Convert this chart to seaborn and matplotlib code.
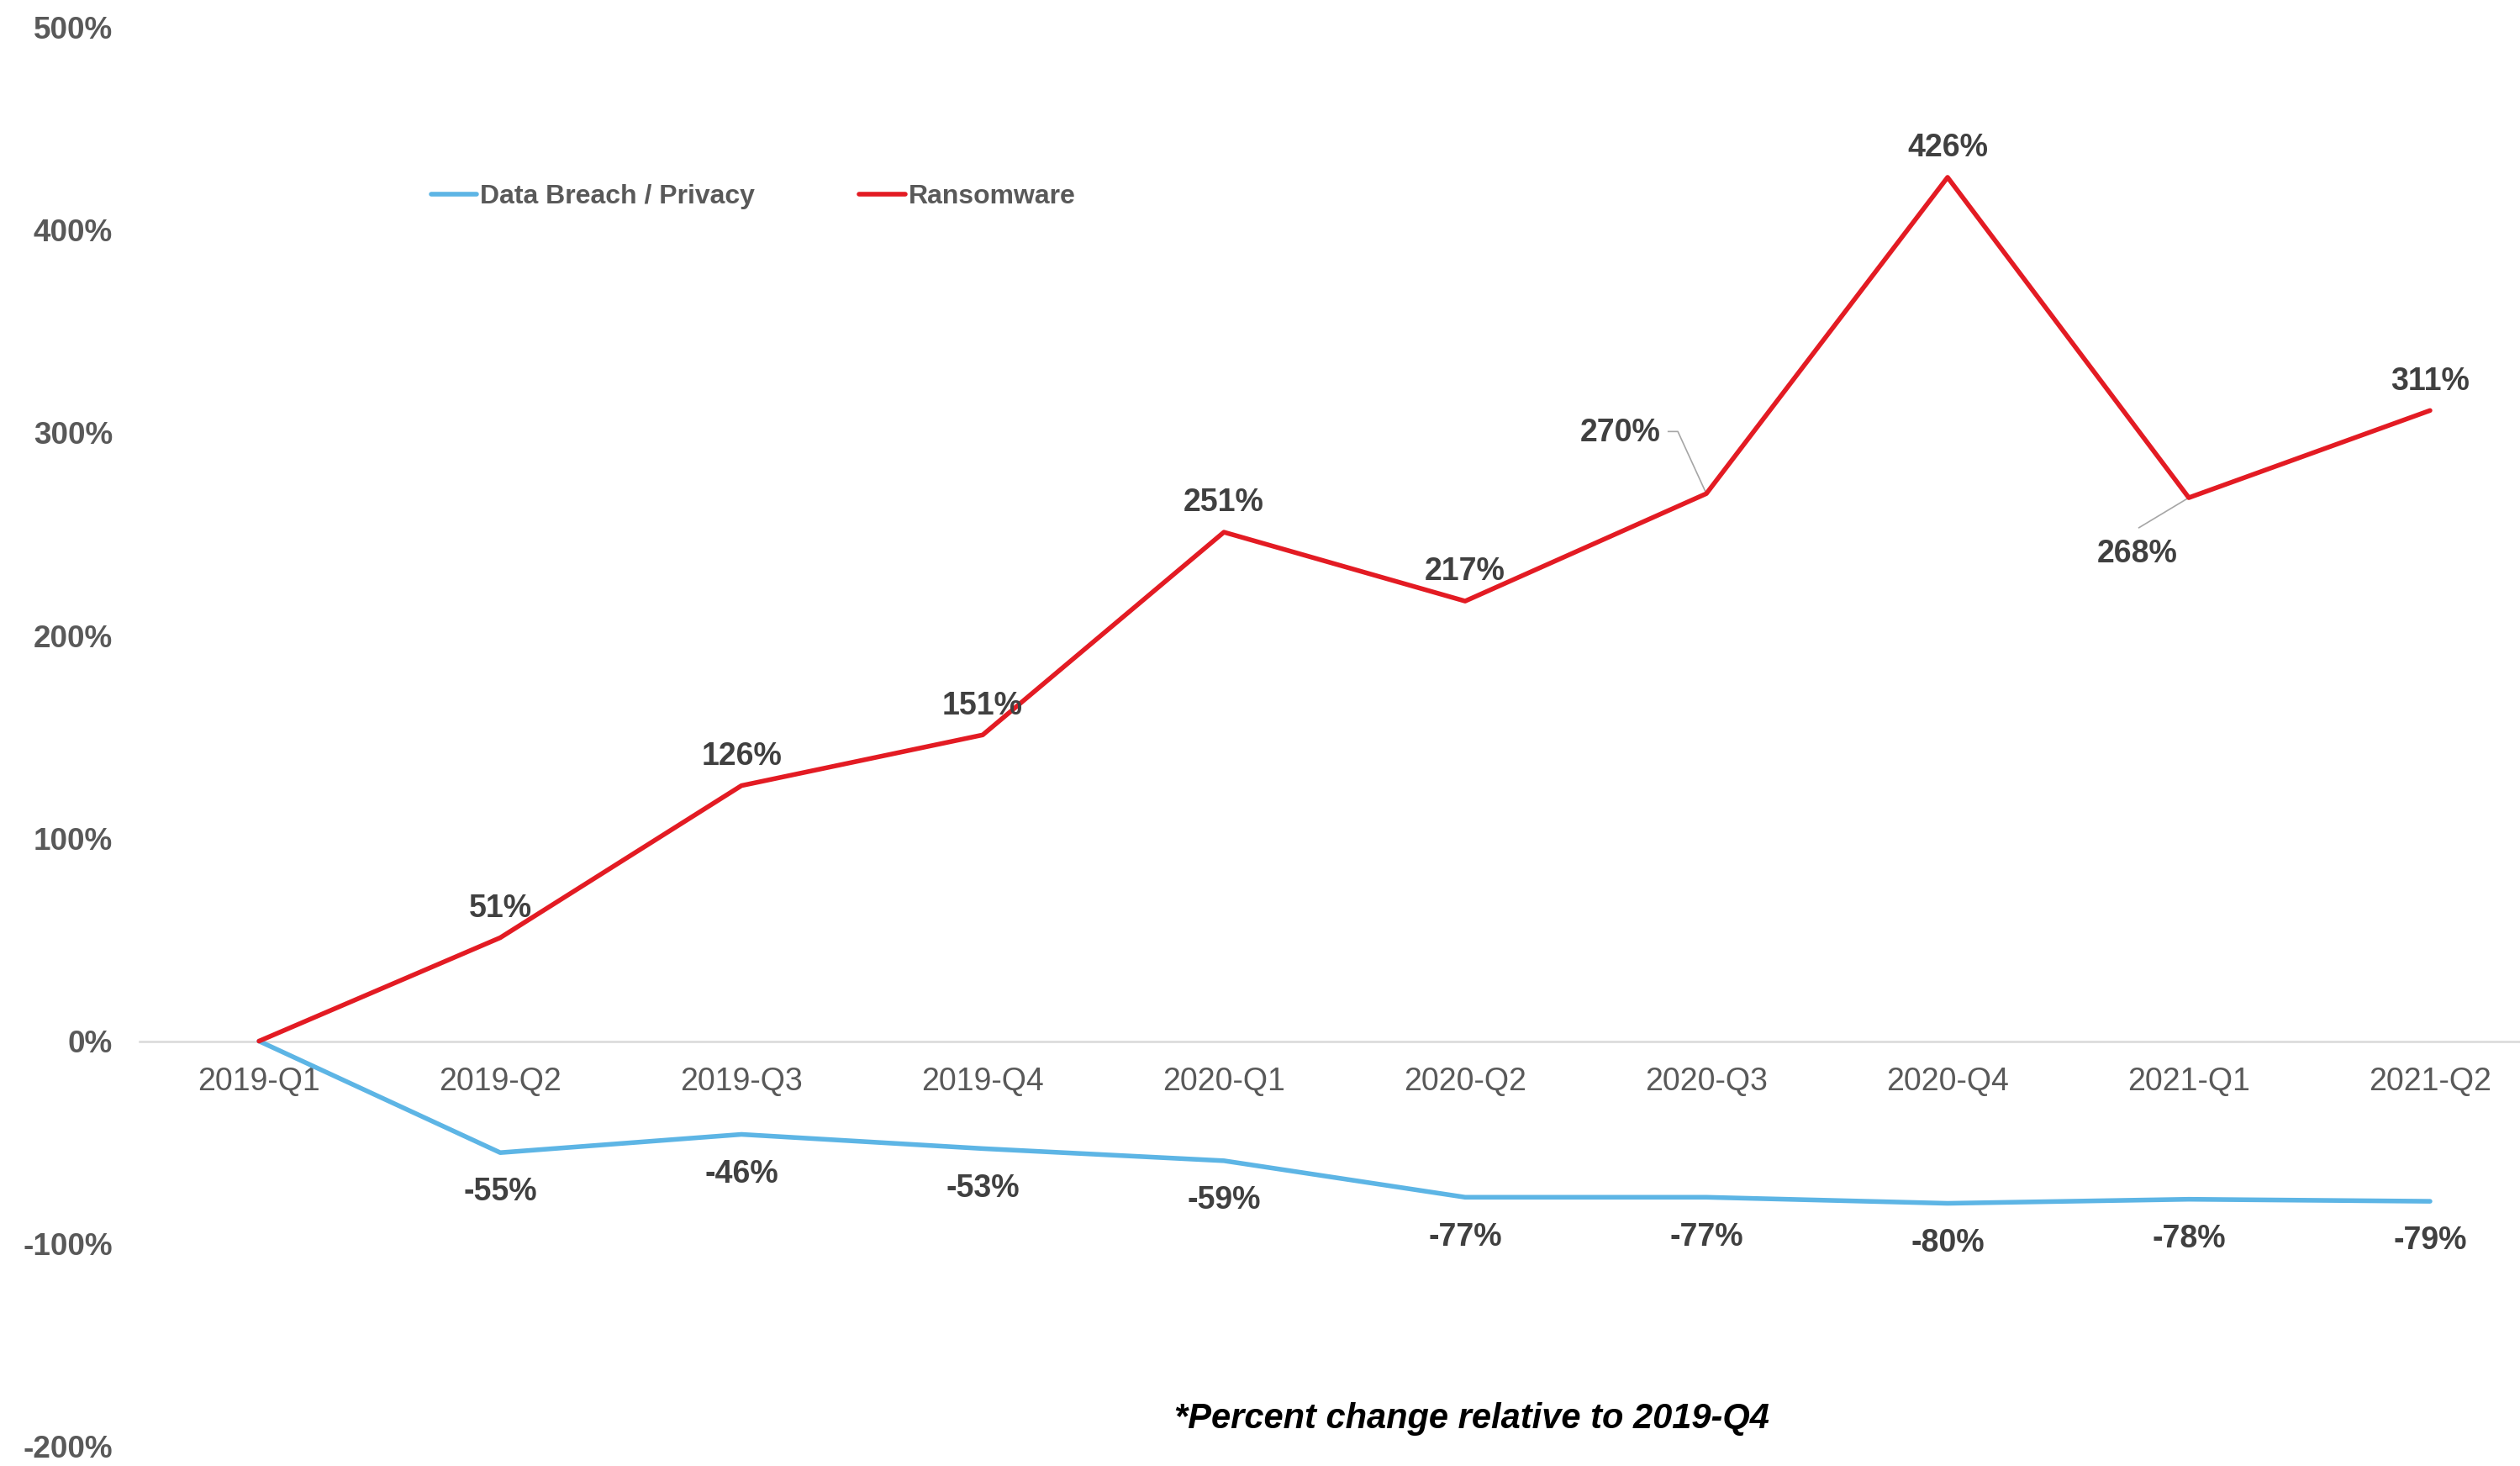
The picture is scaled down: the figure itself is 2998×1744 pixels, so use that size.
import matplotlib
matplotlib.use("Agg")
import matplotlib.pyplot as plt
import seaborn as sns
import pandas as pd

quarters = ["2019-Q1", "2019-Q2", "2019-Q3", "2019-Q4", "2020-Q1",
            "2020-Q2", "2020-Q3", "2020-Q4", "2021-Q1", "2021-Q2"]
data_breach = [0, -55, -46, -53, -59, -77, -77, -80, -78, -79]
ransomware = [0, 51, 126, 151, 251, 217, 270, 426, 268, 311]
series_names = ["Data Breach / Privacy", "Ransomware"]
y_ticks = [-200, -100, 0, 100, 200, 300, 400, 500]
footnote = "*Percent change relative to 2019-Q4"

sns.set_style("white")
plt.rcParams["font.family"] = ["Liberation Sans", "DejaVu Sans"]

df = pd.DataFrame({
    "x": list(range(len(quarters))) * 2,
    "value": data_breach + ransomware,
    "series": [series_names[0]] * len(quarters) + [series_names[1]] * len(quarters),
})

palette = {series_names[0]: "#5DB5E5", series_names[1]: "#E31B23"}

DPI = 200
fig = plt.figure(figsize=(14.99, 8.72), dpi=DPI)
ax = fig.add_axes([0.0554, 0.0132, 1 - 0.0554, 0.9682])

sns.lineplot(data=df, x="x", y="value", hue="series", hue_order=series_names,
             palette=palette, linewidth=2.0, ax=ax, legend=True, sort=False)

ax.set_xlim(-0.495, 9.373)
ax.set_ylim(-200, 500)
ax.set_xlabel("")
ax.set_ylabel("")

for s in ["top", "right", "left"]:
    ax.spines[s].set_visible(False)
ax.spines["bottom"].set_position(("data", 0))
ax.spines["bottom"].set_color("#D9D9D9")
ax.spines["bottom"].set_linewidth(0.9)
ax.spines["bottom"].set_zorder(0)

ax.set_xticks(range(len(quarters)))
ax.set_xticklabels(quarters, fontsize=13.5, color="#595959")
ax.tick_params(axis="x", length=0, pad=11)
ax.set_yticks(y_ticks)
ax.set_yticklabels([f"{v}%" for v in y_ticks], fontsize=13.3,
                   fontweight="bold", color="#595959")
ax.tick_params(axis="y", length=0, pad=11.5)
ax.grid(False)


def offset_to_data(x, y, dx_pt, dy_pt):
    px, py = ax.transData.transform((x, y))
    px += dx_pt * DPI / 72.0
    py += dy_pt * DPI / 72.0
    return ax.transData.inverted().transform((px, py))


def leader(x, y, pts):
    coords = [offset_to_data(x, y, dx, dy) for dx, dy in pts]
    ax.plot([c[0] for c in coords], [c[1] for c in coords], color="#A6A6A6",
            lw=0.6, solid_capstyle="butt", zorder=1)


lab_color = "#404040"
lab_kw = dict(fontsize=13.5, fontweight="bold", color=lab_color,
              ha="center", va="center", textcoords="offset points")

for i, v in enumerate(ransomware):
    if i == 0:
        continue
    if quarters[i] == "2020-Q3":
        ax.annotate(f"{v}%", xy=(i, v), xytext=(-36.7, 26), **lab_kw)
        leader(i, v, [(-16.6, 26.6), (-12.2, 26.6), (0, 0)])
    elif quarters[i] == "2021-Q1":
        ax.annotate(f"{v}%", xy=(i, v), xytext=(-22, -24), **lab_kw)
        leader(i, v, [(-21.6, -13), (0, 0)])
    else:
        ax.annotate(f"{v}%", xy=(i, v), xytext=(0, 12.5), **lab_kw)

for i, v in enumerate(data_breach):
    if i == 0:
        continue
    ax.annotate(f"{v}%", xy=(i, v), xytext=(0, -17), **lab_kw)

handles, labels = ax.get_legend_handles_labels()
ax.legend_.remove()
leg = fig.legend(handles, labels, loc="center left", bbox_to_anchor=(0.171, 0.866),
                 ncol=2, frameon=False, handlelength=1.7, handletextpad=0.12,
                 columnspacing=3.9, borderpad=0, borderaxespad=0,
                 prop=dict(family="Liberation Sans", weight="bold", size=11.5))
for t in leg.get_texts():
    t.set_color("#595959")
for h in leg.get_lines():
    h.set_linewidth(2.0)

fig.text(0.584, 0.032, footnote, ha="center", va="center", fontsize=15,
         fontweight="bold", fontstyle="italic", color="black")

fig.savefig("out.png", dpi=DPI)
